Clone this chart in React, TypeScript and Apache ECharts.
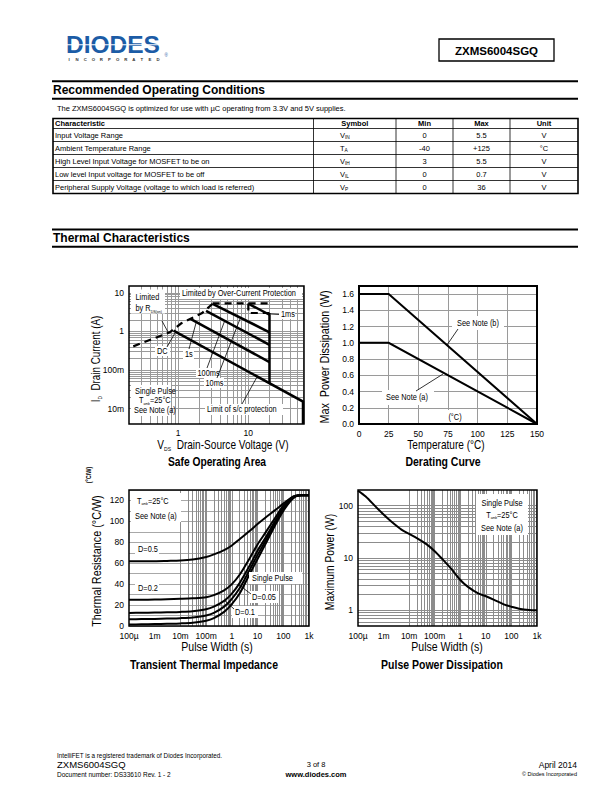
import React, { useEffect, useRef } from 'react';
import * as echarts from 'echarts';

// ---------------- DATA ----------------
const rocColumns = ['Characteristic', 'Symbol', 'Min', 'Max', 'Unit'];
const rocCharacteristic = [
  'Input Voltage Range',
  'Ambient Temperature Range',
  'High Level Input Voltage for MOSFET to be on',
  'Low level Input voltage for MOSFET to be off',
  'Peripheral Supply Voltage (voltage to which load is referred)',
];
const rocSymbol = ['V', 'T', 'V', 'V', 'V'];
const rocSymbolSub = ['IN', 'A', 'IH', 'IL', 'P'];
const rocMin = ['0', '-40', '3', '0', '0'];
const rocMax = ['5.5', '+125', '5.5', '0.7', '36'];
const rocUnit = ['V', '°C', 'V', 'V', 'V'];

// Safe Operating Area  [V_DS (V), I_D (A)]
const soaRdsLimit = [[0.23, 0.41], [0.76, 0.95], [1.1, 1.6], [2.2, 3.0], [3.1, 5.2]];
const soaOverCurrent = [[3.1, 5.3], [20, 5.3]];
const soaOverCurrentStep = [[10, 5.3], [10, 3.0], [20, 3.0]];
const soaDC = [[0.86, 1.05], [60, 0.0152], [60, 0.004]];
const soa1s = [[1.5, 2.1], [20, 0.16]];
const soa100ms = [[2.5, 3.4], [20, 0.45]];
const soa10ms = [[3.1, 5.2], [20, 0.95]];
const soa1ms = [[10, 5.2], [20, 2.7]];
const soaScLimit = [[20, 0.046], [20, 3.0]];

// Derating curve
const deratingTemp = [0, 25, 150];
const deratingNoteB = [1.6, 1.6, 0];
const deratingNoteA = [1.0, 1.0, 0];

// Transient thermal impedance  (°C/W)
const transientWidth = [1e-4, 3e-4, 1e-3, 3e-3, 1e-2, 3e-2, 0.1, 0.2, 0.5, 1, 2, 5, 10, 20, 50, 100, 200, 300, 500, 1000];
const transientD05 = [62, 62, 62, 62.2, 62.5, 63.5, 66, 68.5, 72.5, 77, 83, 91, 97.5, 103.5, 111, 117, 122.5, 124.5, 125, 125];
const transientD02 = [25, 25.1, 25.3, 25.6, 26, 26.5, 27.5, 29.5, 34, 40, 49, 65, 78, 89, 104, 115, 122, 124.5, 125, 125];
const transientD01 = [12.5, 12.6, 12.8, 13.1, 13.5, 14.2, 16, 18.5, 24, 31, 41, 58, 72, 84, 101, 113, 121, 124, 125, 125];
const transientD005 = [6.5, 6.6, 6.8, 7.1, 7.5, 8.2, 10, 12.5, 18.5, 26, 36, 54, 68, 81, 99, 111.5, 120.5, 124, 125, 125];
const transientSingle = [1.5, 1.6, 1.8, 2.1, 2.5, 3.2, 5, 7.5, 13.5, 21, 31, 50, 64, 78, 97, 110, 120, 124, 125, 125];

// Pulse power dissipation (W)
const pulseWidth = [1e-4, 2e-4, 5e-4, 1e-3, 2e-3, 5e-3, 1e-2, 2e-2, 5e-2, 0.1, 0.2, 0.5, 1, 2, 5, 10, 20, 50, 100, 200, 500, 1000];
const pulsePower = [195, 150, 95, 68, 50, 35, 29, 24, 18, 13.5, 9.5, 5.8, 3.8, 2.8, 2.1, 1.85, 1.6, 1.3, 1.17, 1.07, 1.01, 1.0];

// tick labels for decades 10^-4 ... 10^3
const decadeTickLabels = ['100µ', '1m', '10m', '100m', '1', '10', '100', '1k'];

// ---------------- HELPERS ----------------
const F = '"Liberation Sans", Arial, Helvetica, sans-serif';

const logLabel = (v: number) => {
  const e = Math.log10(v);
  const r = Math.round(e);
  if (Math.abs(e - r) > 1e-6 || r < -4 || r > 3) return '';
  return decadeTickLabels[r + 4];
};

const logGrid = (min: number, max: number) => {
  const out: number[] = [];
  for (let n = Math.floor(Math.log10(min)); n <= Math.ceil(Math.log10(max)); n++) {
    for (let k = 1; k <= 9; k++) {
      const v = k * Math.pow(10, n);
      if (v > min * 1.0001 && v < max * 0.9999) out.push(v);
    }
  }
  return out;
};

let measureCtx: CanvasRenderingContext2D | null = null;
const fontStr = (size: number, bold?: boolean) => `${bold ? 'bold ' : ''}${size}px ${F}`;
const measure = (text: string, size: number, bold?: boolean) => {
  if (!measureCtx) measureCtx = document.createElement('canvas').getContext('2d');
  if (!measureCtx) return text.length * size * 0.55;
  measureCtx.font = fontStr(size, bold);
  return measureCtx.measureText(text).width;
};

type TOpt = { bold?: boolean; align?: string; rot?: number; color?: string; z?: number; sx?: number; sub?: number };
const txt = (x: number, y: number, text: string, size: number, o: TOpt = {}) => ({
  type: 'text', x, y, rotation: o.rot || 0, scaleX: o.sx || 1, z: o.z ?? 40, silent: true,
  style: {
    text, fill: o.color || '#000',
    font: fontStr(size, o.bold),
    align: o.align || 'left', verticalAlign: 'middle',
  },
});
// text with subscripts: parts = [[text, isSub], ...]; laid out piece by piece along the reading direction
const subTxt = (x: number, y: number, parts: Array<[string, number]>, size: number, o: TOpt = {}) => {
  const subSize = o.sub ?? size * 0.5;
  const sx = o.sx || 1;
  const rot = o.rot || 0;
  const widths = parts.map(([s, k]) => measure(s, k ? subSize : size, o.bold) * sx);
  const total = widths.reduce((a, b) => a + b, 0);
  let start = 0;
  if (o.align === 'center') start = -total / 2;
  else if (o.align === 'right') start = -total;
  const drop = size * 0.5 - subSize * 0.35;
  const out: any[] = [];
  let cur = start;
  parts.forEach(([s, k], i) => {
    const along = cur;
    const off = k ? drop : 0;
    const px = rot ? x + off : x + along;
    const py = rot ? y - along : y + off;
    out.push(txt(px, py, s, k ? subSize : size, { bold: o.bold, rot, sx, color: o.color, z: o.z }));
    cur += widths[i];
  });
  return out;
};
const seg = (x1: number, y1: number, x2: number, y2: number, w = 1, z = 40, color = '#000') => ({
  type: 'line', z, silent: true, shape: { x1, y1, x2, y2 }, style: { stroke: color, lineWidth: w },
});
const box = (x: number, y: number, w: number, h: number, fill = '#fff', stroke?: string, lw = 1, z = 30) => {
  const style: any = { fill, lineWidth: lw };
  if (stroke) style.stroke = stroke;
  return { type: 'rect', z, silent: true, shape: { x, y, width: w, height: h }, style };
};

const curve = (gi: number, data: number[][], w = 2, dash?: number[], smooth = false) => ({
  type: 'line', xAxisIndex: gi, yAxisIndex: gi, data, symbol: 'none', showSymbol: false,
  smooth: smooth ? 0.3 : false, silent: true, z: 5, clip: true,
  lineStyle: { color: '#000', width: w, type: dash || 'solid', cap: 'butt', join: 'miter' },
});
const gridLines = (gi: number, xs: number[], ys: number[], color = '#9a9a9a') => ({
  type: 'line', xAxisIndex: gi, yAxisIndex: gi, data: [], silent: true, z: 1,
  markLine: {
    silent: true, symbol: ['none', 'none'], label: { show: false }, animation: false,
    lineStyle: { color, width: 1, type: 'solid' }, emphasis: { disabled: true },
    data: [...xs.map((v) => ({ xAxis: v })), ...ys.map((v) => ({ yAxis: v }))],
  },
});

// ---------------- LAYOUT ----------------
const grids = [
  { left: 129, top: 286, width: 175, height: 138 },
  { left: 359, top: 286, width: 178, height: 138 },
  { left: 129, top: 490, width: 180, height: 136 },
  { left: 358, top: 490, width: 179, height: 136 },
];

function buildGraphics() {
  const els: any[] = [];
  const NS = 0.82; // narrow-face compression for chart texts
  const n = { sx: NS };
  const UP = Math.PI / 2;
  // ---- header ----
  els.push(txt(66, 44.8, 'DIODES', 24.5, { bold: true, color: '#1c5ca6' }));
  els.push(seg(64, 44.8, 164, 44.8, 1.1, 41, '#fff'));
  'INCORPORATED'.split('').forEach((c, i) => els.push(txt(69 + i * 8.1, 59.4, c, 4.3, { bold: true, color: '#333', align: 'center' })));
  els.push(txt(164.5, 55.5, '®', 4.5, { color: '#1c5ca6' }));
  els.push(box(439, 39, 115, 22, '#fff', '#000', 1.3));
  els.push(txt(496.5, 50.5, 'ZXMS6004SGQ', 11.5, { bold: true, align: 'center' }));

  // ---- Recommended Operating Conditions ----
  els.push(seg(52, 81.3, 578, 81.3, 2));
  els.push(txt(53, 90.3, 'Recommended Operating Conditions', 12, { bold: true }));
  els.push(seg(52, 98.7, 578, 98.7, 2));
  els.push(txt(57, 108.3, 'The ZXMS6004SGQ is optimized for use with µC operating from 3.3V and 5V supplies.', 7.5));

  const colX = [53, 313.5, 396, 453, 510, 578];
  const rowY = [118.5, 128.5, 141.5, 154.5, 167.5, 180.5, 193.5];
  for (let i = 1; i < rowY.length - 1; i++) els.push(seg(colX[0], rowY[i], colX[5], rowY[i], 0.8));
  for (let j = 1; j < colX.length - 1; j++) els.push(seg(colX[j], rowY[0], colX[j], rowY[6], 0.8));
  els.push(box(colX[0], rowY[0], colX[5] - colX[0], rowY[6] - rowY[0], 'none', '#000', 1.6, 41));
  const hy = (rowY[0] + rowY[1]) / 2;
  els.push(txt(55, hy, rocColumns[0], 7.5, { bold: true }));
  for (let j = 1; j < 5; j++) els.push(txt((colX[j] + colX[j + 1]) / 2, hy, rocColumns[j], 7.5, { bold: true, align: 'center' }));
  rocCharacteristic.forEach((c, i) => {
    const y = (rowY[i + 1] + rowY[i + 2]) / 2;
    els.push(txt(55, y, c, 7.5));
    els.push(...subTxt(340, y, [[rocSymbol[i], 0], [rocSymbolSub[i], 1]], 7.5, { sub: 4.8 }));
    els.push(txt((colX[2] + colX[3]) / 2, y, rocMin[i], 7.5, { align: 'center' }));
    els.push(txt((colX[3] + colX[4]) / 2, y, rocMax[i], 7.5, { align: 'center' }));
    els.push(txt((colX[4] + colX[5]) / 2, y, rocUnit[i], 7.5, { align: 'center' }));
  });

  // ---- Thermal Characteristics ----
  els.push(seg(52, 229.5, 578, 229.5, 2));
  els.push(txt(53, 238.3, 'Thermal Characteristics', 12, { bold: true }));
  els.push(seg(52, 246.8, 578, 246.8, 2));

  // ---- plot borders ----
  const bw = [1.5, 2, 1.5, 1.5];
  grids.forEach((g, i) => els.push(box(g.left, g.top, g.width, g.height, 'none', '#000', bw[i], 45)));

  // ---- SOA annotations ----
  els.push(box(131, 289.5, 34, 24));
  els.push(txt(135.5, 297.5, 'Limited', 9, n));
  els.push(...subTxt(135.5, 308.5, [['by R', 0], ['DS(on)', 1]], 9, { ...n, sub: 4.3 }));
  els.push(box(180, 288, 122, 11));
  els.push(txt(182, 293.5, 'Limited by Over-Current Protection', 9, n));
  els.push(box(279, 309, 16, 10));
  els.push(txt(281, 314.5, '1ms', 9, n));
  els.push(box(155, 346, 15, 10));
  els.push(txt(157, 351.3, 'DC', 9, n));
  els.push(box(183, 349, 11, 10));
  els.push(txt(185, 354.3, '1s', 9, n));
  els.push(box(196, 368, 24, 10));
  els.push(txt(197.5, 373.3, '100ms', 9, n));
  els.push(box(204, 378, 20, 10));
  els.push(txt(205.5, 383.3, '10ms', 9, n));
  els.push(box(205, 404, 78, 11));
  els.push(txt(207, 409.7, 'Limit of s/c protection', 9, n));
  els.push(box(131, 385, 40, 31));
  els.push(txt(135, 391.3, 'Single Pulse', 9, n));
  els.push(...subTxt(139, 400.7, [['T', 0], ['amb', 1], ['=25°C', 0]], 9, { ...n, sub: 4 }));
  els.push(txt(134, 410.7, 'See Note (a)', 9, n));
  els.push(seg(162, 321, 168, 332, 0.8));
  els.push(seg(167, 347, 175, 333, 0.8));
  els.push(seg(189, 349, 196, 323, 0.8));
  els.push(seg(207, 368, 225, 320, 0.8));
  els.push(seg(217, 378, 240, 319, 0.8));
  els.push(seg(242, 404, 257, 377, 0.8));
  els.push(seg(271, 314, 279, 314.5, 0.8));
  // SOA axis titles
  els.push(...subTxt(96, 359, [['I', 0], ['D', 1], ['  Drain Current (A)', 0]], 12, { rot: UP, align: 'center', sx: 0.82, sub: 6 }));
  els.push(...subTxt(223, 445, [['V', 0], ['DS', 1], ['  Drain-Source Voltage (V)', 0]], 12, { align: 'center', sx: 0.84, sub: 6 }));
  els.push(txt(217, 461.5, 'Safe Operating Area', 12.5, { bold: true, align: 'center', sx: 0.82 }));

  // ---- Derating annotations ----
  els.push(box(452, 316, 52, 14));
  els.push(txt(478, 323, 'See Note (b)', 9, { ...n, align: 'center' }));
  els.push(box(382, 390, 52, 15));
  els.push(txt(407, 397.5, 'See Note (a)', 9, { ...n, align: 'center' }));
  els.push(box(441, 410, 30, 13));
  els.push(txt(455, 417, '(°C)', 9, { ...n, align: 'center' }));
  els.push(seg(458, 329, 447, 345, 0.8));
  els.push(seg(416, 391, 443, 374, 0.8));
  els.push(txt(325, 357, 'Max  Power Dissipation (W)', 12, { rot: UP, align: 'center', sx: 0.9 }));
  els.push(txt(446, 445, 'Temperature (°C)', 12, { align: 'center', sx: 0.84 }));
  els.push(txt(443, 461.5, 'Derating Curve', 12.5, { bold: true, align: 'center', sx: 0.84 }));

  // ---- Transient annotations ----
  els.push(box(131, 493, 50, 29));
  els.push(...subTxt(137, 501, [['T', 0], ['amb', 1], ['=25°C', 0]], 9, { ...n, sub: 4 }));
  els.push(txt(135, 516.7, 'See Note (a)', 9, n));
  els.push(box(135, 544, 24, 11));
  els.push(txt(138, 549.5, 'D=0.5', 9, n));
  els.push(box(135, 583, 24, 11));
  els.push(txt(138, 588.5, 'D=0.2', 9, n));
  els.push(box(249, 572, 53, 12));
  els.push(txt(252, 578, 'Single Pulse', 9, n));
  els.push(box(249, 591, 30, 12));
  els.push(txt(252, 597, 'D=0.05', 9, n));
  els.push(box(232, 606, 26, 12));
  els.push(txt(235, 612, 'D=0.1', 9, n));
  els.push(seg(251, 594, 239, 585, 0.8));
  els.push(seg(234, 609, 224, 600, 0.8));
  els.push(txt(89, 475, '(°C/W)', 6.5, { bold: true, rot: UP, align: 'center', sx: 0.85 }));
  els.push(txt(97, 561, 'Thermal Resistance (°C/W)', 12, { rot: UP, align: 'center', sx: 0.9 }));
  els.push(txt(217, 646.5, 'Pulse Width (s)', 12, { align: 'center', sx: 0.88 }));
  els.push(txt(204, 664.5, 'Transient Thermal Impedance', 12.5, { bold: true, align: 'center', sx: 0.84 }));

  // ---- Pulse power annotations ----
  els.push(box(476, 494, 52, 41));
  els.push(txt(502, 503, 'Single Pulse', 9, { ...n, align: 'center' }));
  els.push(...subTxt(502, 515, [['T', 0], ['amb', 1], ['=25°C', 0]], 9, { ...n, align: 'center', sub: 4 }));
  els.push(txt(502, 528, 'See Note (a)', 9, { ...n, align: 'center' }));
  els.push(txt(330, 562, 'Maximum Power (W)', 12, { rot: UP, align: 'center', sx: 0.86 }));
  els.push(txt(447, 646.5, 'Pulse Width (s)', 12, { align: 'center', sx: 0.88 }));
  els.push(txt(442, 665, 'Pulse Power Dissipation', 12.5, { bold: true, align: 'center', sx: 0.84 }));

  // ---- footer ----
  els.push(txt(57, 755, 'IntelliFET is a registered trademark of Diodes Incorporated.', 6.3));
  els.push(txt(57, 764.5, 'ZXMS6004SGQ', 9.5));
  els.push(txt(57, 774.5, 'Document number: DS33610 Rev. 1 - 2', 6.5));
  els.push(txt(316, 764.5, '3 of 8', 7.5, { align: 'center' }));
  els.push(txt(316, 774.5, 'www.diodes.com', 7.5, { bold: true, align: 'center' }));
  els.push(txt(577, 764.5, 'April 2014', 8.5, { align: 'right' }));
  els.push(txt(577, 773.5, '© Diodes Incorporated', 5.5, { align: 'right' }));
  return els;
}

function buildOption() {
  const axisBase = { axisLine: { show: false }, axisTick: { show: false }, splitLine: { show: false } };
  const lab = (margin: number, formatter: any) => ({ color: '#000', fontFamily: F, fontSize: 8.5, margin, formatter });
  const split = (color = '#9a9a9a') => ({ show: true, lineStyle: { color, width: 1, type: 'solid' } });
  const zip = (xs: number[], ys: number[]) => xs.map((x, i) => [x, ys[i]]);
  return {
    animation: false,
    backgroundColor: '#fff',
    grid: grids.map((g) => ({ ...g, containLabel: false, outerBoundsMode: 'none', show: false })),
    xAxis: [
      { gridIndex: 0, type: 'log', logBase: 10, min: 0.2, max: 62, ...axisBase, axisLabel: lab(4, logLabel) },
      { gridIndex: 1, type: 'value', min: 0, max: 150, interval: 25, ...axisBase, splitLine: split(), axisLabel: lab(5, (v: number) => String(v)) },
      { gridIndex: 2, type: 'log', logBase: 10, min: 1e-4, max: 1e3, ...axisBase, axisLabel: lab(5, logLabel) },
      { gridIndex: 3, type: 'log', logBase: 10, min: 1e-4, max: 1e3, ...axisBase, axisLabel: lab(5, logLabel) },
    ],
    yAxis: [
      { gridIndex: 0, type: 'log', logBase: 10, min: 0.004, max: 15, ...axisBase, axisLabel: lab(5, logLabel) },
      { gridIndex: 1, type: 'value', min: 0, max: 1.7, interval: 0.2, ...axisBase, splitLine: split(), axisLabel: lab(5, (v: number) => (v < 1.65 ? v.toFixed(1) : '')) },
      { gridIndex: 2, type: 'value', min: 0, max: 130, interval: 10, ...axisBase, splitLine: split('#a8a8a8'), axisLabel: lab(5, (v: number) => (Math.round(v) % 20 === 0 && v <= 120 ? String(Math.round(v)) : '')) },
      { gridIndex: 3, type: 'log', logBase: 10, min: 0.5, max: 200, ...axisBase, axisLabel: lab(5, logLabel) },
    ],
    series: [
      gridLines(0, logGrid(0.2, 62), logGrid(0.004, 15)),
      gridLines(2, logGrid(1e-4, 1e3), [], '#8c8c8c'),
      gridLines(3, logGrid(1e-4, 1e3), logGrid(0.5, 200), '#8c8c8c'),
      // SOA
      curve(0, soaRdsLimit, 2.2, [7, 5]),
      curve(0, soaOverCurrent, 2.2, [7, 5]),
      curve(0, soaOverCurrentStep, 2.2, [7, 5]),
      curve(0, soaDC, 2.5),
      curve(0, soa1s, 2.5),
      curve(0, soa100ms, 2.5),
      curve(0, soa10ms, 2.5),
      curve(0, soa1ms, 2.5),
      curve(0, soaScLimit, 2.5),
      // Derating
      curve(1, zip(deratingTemp, deratingNoteB), 2),
      curve(1, zip(deratingTemp, deratingNoteA), 2),
      // Transient
      curve(2, zip(transientWidth, transientD05), 2, undefined, true),
      curve(2, zip(transientWidth, transientD02), 2, undefined, true),
      curve(2, zip(transientWidth, transientD01), 2, undefined, true),
      curve(2, zip(transientWidth, transientD005), 2, undefined, true),
      curve(2, zip(transientWidth, transientSingle), 2, undefined, true),
      // Pulse power
      curve(3, zip(pulseWidth, pulsePower), 2, undefined, true),
    ],
    graphic: { elements: buildGraphics() },
  };
}

export default function App() {
  const ref = useRef<HTMLDivElement>(null);
  useEffect(() => {
    const chart = echarts.init(ref.current!, null, { renderer: 'svg' });
    chart.setOption(buildOption() as any);
    return () => chart.dispose();
  }, []);
  return <div ref={ref} style={{ position: 'absolute', left: 0, top: 0, width: 612, height: 792, background: '#fff' }} />;
}
